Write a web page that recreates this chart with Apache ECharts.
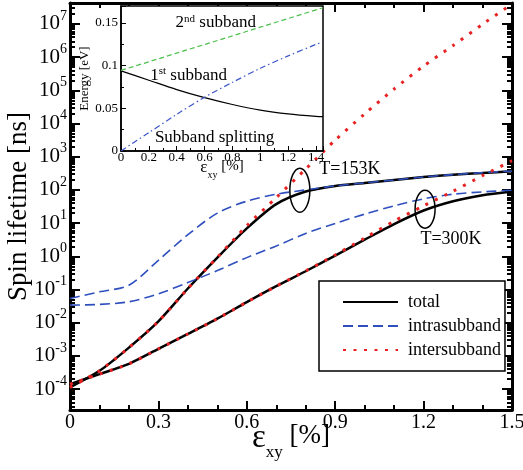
<!DOCTYPE html>
<html>
<head>
<meta charset="utf-8">
<script src="https://cdn.jsdelivr.net/npm/echarts@6/dist/echarts.min.js"></script>
<style>
html,body{margin:0;padding:0;background:#fff;}
#c{width:523px;height:470px;}
</style>
</head>
<body>
<div id="c"></div>
<script>
// ---- main plot data: strain (%) and log10(spin lifetime / ns) ----
const strain = [0, 0.1, 0.2, 0.3, 0.4, 0.5, 0.6, 0.7, 0.8, 0.9, 1.0, 1.1, 1.2, 1.3, 1.4, 1.5];
const total153 = [-3.95, -3.45, -2.75, -1.96, -0.97, -0.04, 0.84, 1.57, 1.95, 2.12, 2.21, 2.30, 2.39, 2.46, 2.51, 2.56];
const intra153 = [-1.27, -1.07, -0.87, -0.12, 0.65, 1.30, 1.66, 1.87, 2.00, 2.12, 2.21, 2.30, 2.39, 2.46, 2.52, 2.57];
const inter153 = [-3.95, -3.45, -2.75, -1.96, -0.97, -0.03, 0.92, 1.77, 2.63, 3.50, 4.29, 5.04, 5.73, 6.35, 6.99, 7.60];
const total300 = [-3.85, -3.55, -3.24, -2.79, -2.34, -1.88, -1.38, -0.90, -0.45, 0.02, 0.50, 0.97, 1.38, 1.66, 1.84, 1.95];
const intra300 = [-1.47, -1.45, -1.37, -1.13, -0.79, -0.43, -0.04, 0.31, 0.69, 0.99, 1.27, 1.52, 1.73, 1.87, 1.94, 1.99];
const inter300 = [-3.85, -3.55, -3.24, -2.79, -2.34, -1.88, -1.38, -0.90, -0.44, 0.04, 0.55, 1.06, 1.52, 1.96, 2.43, 2.88];
const yExponents = [-4, -3, -2, -1, 0, 1, 2, 3, 4, 5, 6, 7];
const yRange = [-4.63, 7.63];
const xRange = [0, 1.5];

// ---- inset data: strain (%) and energy (eV) ----
const insetStrain = [0, 0.2, 0.4, 0.6, 0.8, 1.0, 1.2, 1.4, 1.45];
const subband1 = [0.094, 0.083, 0.072, 0.0625, 0.0545, 0.048, 0.0435, 0.0405, 0.0402];
const subband2 = [0.0945, 0.1046, 0.1148, 0.1249, 0.135, 0.1452, 0.1553, 0.1655, 0.168];
const splitting = [0, 0.0215, 0.043, 0.063, 0.0805, 0.097, 0.1115, 0.125, 0.1278];

// ---- annotations (data coordinates) ----
const tempLabels = [{ text: 'T=153K', at: [0.95, 2.63] }, { text: 'T=300K', at: [1.293, 0.52] }];
const ellipses = [{ at: [0.78, 1.99], rx: 10, ry: 22 }, { at: [1.205, 1.42], rx: 10, ry: 19 }];
const insetLabels = [
  { text: '{a|2}{s|nd}{a| subband}', at: [0.68, 0.151] },
  { text: '{a|1}{s|st}{a| subband}', at: [0.485, 0.089] },
  { text: '{a|Subband splitting}', at: [0.672, 0.016] }
];

const FONT = 'Liberation Serif';
const BLUE = '#2f4fbf';
const RED = '#e82222';

const minorTicks = [];
for (let n = -5; n <= 7; n++) {
  for (let k = 2; k <= 9; k++) {
    const v = n + Math.log10(k);
    if (v > yRange[0] && v < yRange[1]) minorTicks.push(v);
  }
}

const pairs = (xs, ys) => xs.map((x, i) => [x, ys[i]]);

function mainY(position, major, labels) {
  return {
    type: 'value', gridIndex: 0, position: position, min: yRange[0], max: yRange[1],
    axisLine: { show: major, onZero: false, lineStyle: { color: '#000', width: 3 } },
    axisTick: { show: true, inside: true, length: major ? 10 : 5, customValues: major ? yExponents : minorTicks,
      lineStyle: { color: '#000', width: 2 } },
    axisLabel: labels ? {
      show: true, customValues: yExponents, margin: 3,
      formatter: v => '{b|10}{s|' + Math.round(v) + '}',
      rich: {
        b: { fontFamily: FONT, fontSize: 21, color: '#000', lineHeight: 30 },
        s: { fontFamily: FONT, fontSize: 14, color: '#000', lineHeight: 14, verticalAlign: 'top' }
      }
    } : { show: false },
    splitLine: { show: false },
    name: labels ? 'Spin lifetime [ns]' : '',
    nameLocation: 'middle', nameGap: 38, nameMoveOverlap: false,
    nameTextStyle: { fontFamily: FONT, fontSize: 27, color: '#000' }
  };
}

function mainX(position, labels) {
  return {
    type: 'value', gridIndex: 0, position: position, min: xRange[0], max: xRange[1], interval: 0.3,
    axisLine: { onZero: false, lineStyle: { color: '#000', width: 3 } },
    axisTick: { inside: true, length: 9, lineStyle: { color: '#000', width: 2 } },
    minorTick: { show: true, splitNumber: 3, length: 5, lineStyle: { color: '#000', width: 2 } },
    axisLabel: labels ? { show: true, margin: 3, fontFamily: FONT, fontSize: 20, color: '#000' } : { show: false },
    splitLine: { show: false },
    minorSplitLine: { show: false },
    name: labels ? '{e|ε}{sub|xy}{n| [%]}' : '',
    nameLocation: 'middle', nameGap: 12, nameMoveOverlap: false,
    nameTextStyle: {
      verticalAlign: 'top',
      rich: {
        e: { fontFamily: FONT, fontSize: 33, color: '#000', lineHeight: 32, verticalAlign: 'top' },
        sub: { fontFamily: FONT, fontSize: 17, color: '#000', lineHeight: 17, verticalAlign: 'top', padding: [22, 0, 0, 0] },
        n: { fontFamily: FONT, fontSize: 27, color: '#000', lineHeight: 32, verticalAlign: 'top' }
      }
    }
  };
}

const option = {
  animation: false,
  backgroundColor: '#fff',
  grid: [
    { left: 70, right: 11, top: 3, bottom: 60, show: false, outerBoundsMode: 'none', containLabel: false },
    { left: 121, right: 200, top: 6, bottom: 319, show: true, backgroundColor: '#fff',
      borderColor: '#000', borderWidth: 1.5, z: 10, outerBoundsMode: 'none', containLabel: false }
  ],
  xAxis: [
    mainX('bottom', true),
    mainX('top', false),
    {
      type: 'value', gridIndex: 1, min: 0, max: 1.45, interval: 0.2, z: 11,
      axisLine: { onZero: false, lineStyle: { color: '#000', width: 1.5 } },
      axisTick: { inside: true, length: 5, lineStyle: { color: '#000', width: 1 } },
      minorTick: { show: true, splitNumber: 2, length: 3, lineStyle: { color: '#000', width: 1 } },
      axisLabel: { margin: 0, fontFamily: FONT, fontSize: 13, color: '#000', showMaxLabel: false },
      splitLine: { show: false },
      name: '{e|ε}{sub|xy}{n| [%]}', nameLocation: 'middle', nameGap: 8, nameMoveOverlap: false,
      nameTextStyle: {
        verticalAlign: 'top',
        rich: {
          e: { fontFamily: FONT, fontSize: 17, color: '#000', lineHeight: 16, verticalAlign: 'top' },
          sub: { fontFamily: FONT, fontSize: 10, color: '#000', lineHeight: 10, verticalAlign: 'top', padding: [11, 0, 0, 0] },
          n: { fontFamily: FONT, fontSize: 15, color: '#000', lineHeight: 16, verticalAlign: 'top' }
        }
      }
    }
  ],
  yAxis: [
    mainY('left', true, true),
    mainY('left', false, false),
    mainY('right', true, false),
    mainY('right', false, false),
    {
      type: 'value', gridIndex: 1, min: 0, max: 0.17, interval: 0.05, z: 11,
      axisLine: { onZero: false, lineStyle: { color: '#000', width: 1.5 } },
      axisTick: { inside: true, length: 5, lineStyle: { color: '#000', width: 1 } },
      minorTick: { show: true, splitNumber: 2, length: 3, lineStyle: { color: '#000', width: 1 } },
      axisLabel: { margin: 3, fontFamily: FONT, fontSize: 13, color: '#000', showMaxLabel: false },
      splitLine: { show: false },
      name: 'Energy [eV]', nameLocation: 'middle', nameGap: 30, nameMoveOverlap: false,
      nameTextStyle: { fontFamily: FONT, fontSize: 13, color: '#000' }
    }
  ],
  legend: {
    data: ['total', 'intrasubband', 'intersubband'],
    orient: 'vertical', left: 319, top: 281,
    padding: [12, 4, 12, 23], itemWidth: 55, itemHeight: 14, itemGap: 6,
    backgroundColor: '#fff', borderColor: '#000', borderWidth: 1.5, borderRadius: 0,
    selectedMode: false,
    itemStyle: { color: 'rgba(0,0,0,0)', borderWidth: 0, opacity: 0 },
    textStyle: { fontFamily: FONT, fontSize: 18, color: '#000', padding: [0, 0, 0, 5] }
  },
  series: [
    { name: 'total', type: 'line', xAxisIndex: 0, yAxisIndex: 0, data: pairs(strain, total153),
      symbol: 'none', smooth: 0.25, z: 2, lineStyle: { color: '#000', width: 2.5 }, itemStyle: { color: '#000' } },
    { name: 'total', type: 'line', xAxisIndex: 0, yAxisIndex: 0, data: pairs(strain, total300),
      symbol: 'none', smooth: 0.25, z: 2, lineStyle: { color: '#000', width: 2.5 }, itemStyle: { color: '#000' } },
    { name: 'intrasubband', type: 'line', xAxisIndex: 0, yAxisIndex: 0, data: pairs(strain, intra153),
      symbol: 'none', smooth: 0.3, z: 3, lineStyle: { color: BLUE, width: 1.6, type: [10, 5] }, itemStyle: { color: BLUE } },
    { name: 'intrasubband', type: 'line', xAxisIndex: 0, yAxisIndex: 0, data: pairs(strain, intra300),
      symbol: 'none', smooth: 0.3, z: 3, lineStyle: { color: BLUE, width: 1.6, type: [10, 5] }, itemStyle: { color: BLUE } },
    { name: 'intersubband', type: 'line', xAxisIndex: 0, yAxisIndex: 0, data: pairs(strain, inter153),
      symbol: 'none', smooth: 0.25, z: 4, lineStyle: { color: RED, width: 3, type: [3, 7.5] }, itemStyle: { color: RED } },
    { name: 'intersubband', type: 'line', xAxisIndex: 0, yAxisIndex: 0, data: pairs(strain, inter300),
      symbol: 'none', smooth: 0.25, z: 4, lineStyle: { color: RED, width: 3, type: [3, 7.5] }, itemStyle: { color: RED } },
    { name: '1st subband', type: 'line', xAxisIndex: 2, yAxisIndex: 4, data: pairs(insetStrain, subband1),
      symbol: 'none', smooth: 0.3, z: 12, lineStyle: { color: '#000', width: 1.2 } },
    { name: '2nd subband', type: 'line', xAxisIndex: 2, yAxisIndex: 4, data: pairs(insetStrain, subband2),
      symbol: 'none', z: 12, lineStyle: { color: '#4cc04c', width: 1.2, type: [5, 3] } },
    { name: 'Subband splitting', type: 'line', xAxisIndex: 2, yAxisIndex: 4, data: pairs(insetStrain, splitting),
      symbol: 'none', smooth: 0.3, z: 12, lineStyle: { color: '#3a55c8', width: 1.2, type: [6, 3, 1.5, 3] } }
  ]
};

const chart = echarts.init(document.getElementById('c'));
chart.setOption(option);

const toMain = pt => chart.convertToPixel({ xAxisIndex: 0, yAxisIndex: 0 }, pt);
const toInset = pt => chart.convertToPixel({ xAxisIndex: 2, yAxisIndex: 4 }, pt);
const graphics = [];
ellipses.forEach(e => {
  const c = toMain(e.at);
  graphics.push({ type: 'ellipse', z: 20, shape: { cx: c[0], cy: c[1], rx: e.rx, ry: e.ry },
    style: { fill: 'none', stroke: '#000', lineWidth: 1.5 } });
});
tempLabels.forEach(t => {
  const c = toMain(t.at);
  graphics.push({ type: 'text', z: 20, x: c[0], y: c[1],
    style: { text: t.text, fill: '#000', font: '18px "' + FONT + '"', align: 'center', verticalAlign: 'middle' } });
});
insetLabels.forEach(t => {
  const c = toInset(t.at);
  graphics.push({ type: 'text', z: 30, x: c[0], y: c[1],
    style: { text: t.text, align: 'center', verticalAlign: 'middle',
      rich: {
        a: { fontFamily: FONT, fontSize: 17, fill: '#000', lineHeight: 18, verticalAlign: 'bottom' },
        s: { fontFamily: FONT, fontSize: 11, fill: '#000', lineHeight: 11, verticalAlign: 'top' }
      } } });
});
chart.setOption({ graphic: graphics });
</script>
</body>
</html>
